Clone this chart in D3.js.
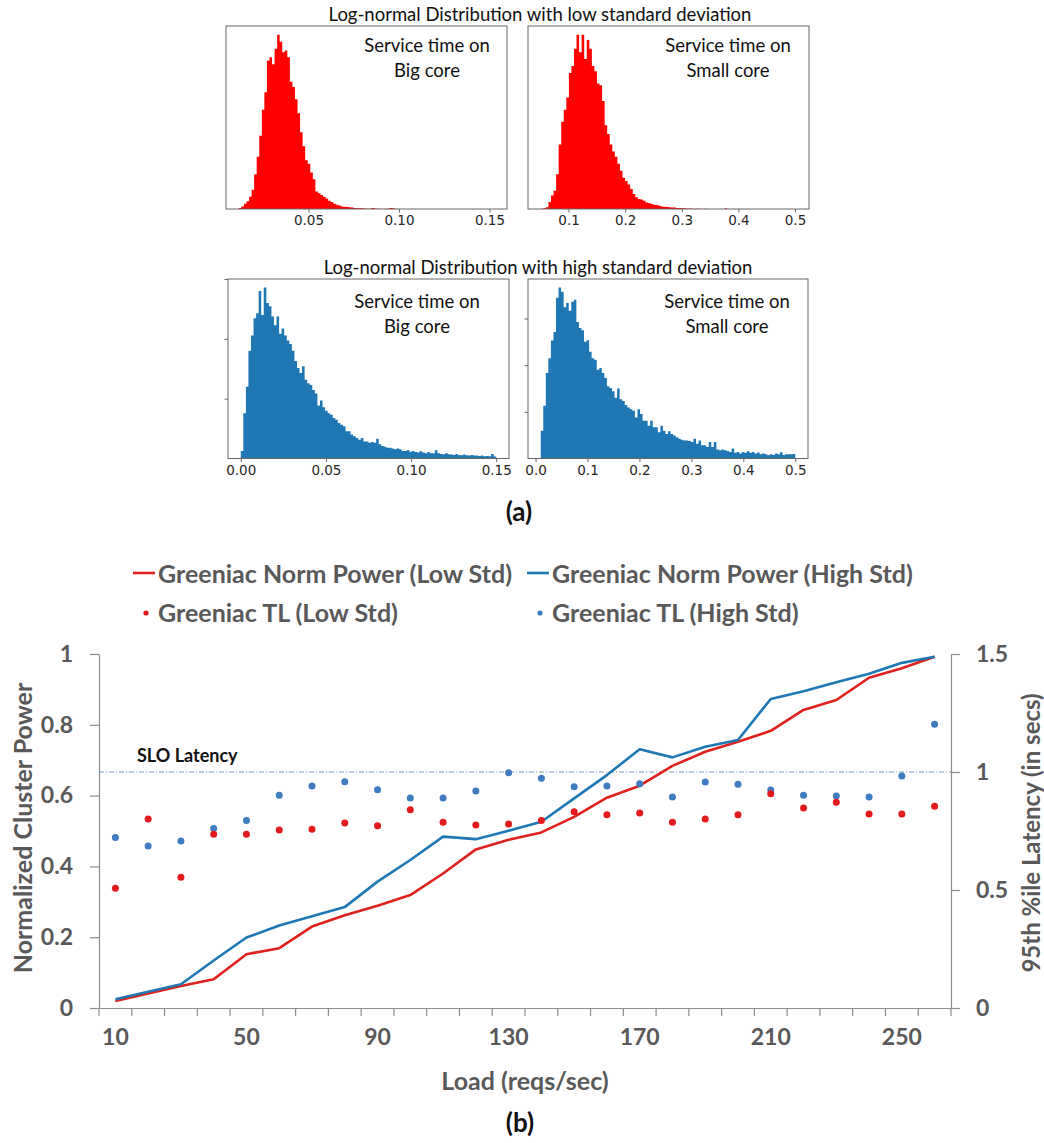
<!DOCTYPE html>
<html>
<head>
<meta charset="utf-8">
<script src="https://cdn.jsdelivr.net/npm/d3@7"></script>
<style>
body { margin: 0; background: #fff; }
svg { display: block; }
</style>
</head>
<body>
<svg id="fig" width="1044" height="1143"></svg>
<script>
// ---- (a) histogram bins, heights in % of the tallest bin ----
var bigLowStart = 0.0115, bigLowStep = 0.00141;
var bigLow = [0.6, 1.5, 3, 4.4, 7, 11, 20, 30, 42, 57, 67, 85, 87, 83, 92, 100, 96, 90, 91, 87,
    73, 70, 63, 55, 44, 36, 28, 26, 21, 17, 10, 9, 8, 7, 6, 4.8, 4, 3, 2.5, 2,
    1.5, 1.3, 1.1, 1, 0.8, 0.6, 0.5, 0.4, 0.4, 0.3, 0.2, 0.2, 0.6, 0.3, 0.1, 0.1, 0, 0.1, 0.2, 0.6,
    0.5, 0.1, 0, 0, 0, 0, 0, 0, 0, 0];

var smallLowStart = 0.051, smallLowStep = 0.00451;
var smallLow = [0.2, 0.4, 1, 4, 7.7, 10.5, 20, 37, 50, 57, 64, 78, 82, 92, 100, 90, 100, 86, 97, 92,
    82, 79, 72, 71, 62, 48, 43, 37, 33, 30, 26, 22, 18, 16, 14, 11.5, 8.6, 6.7, 5.7, 5.4,
    4.8, 3.8, 3.4, 2.9, 2.5, 2.3, 1.9, 1.5, 1.3, 1.1, 1, 0.8, 0.8, 0.6, 0.6, 0.5, 0.4, 0.3, 0.3, 0.2,
    0.2, 0.1, 0.1, 0, 0.1, 0, 0, 0, 0, 0, 0, 0, 0.5, 0, 0];

var bigHighStart = 0.0, bigHighStep = 0.0015;
var bigHigh = [4.4, 26.5, 42, 63, 72, 82, 85, 98, 84, 100, 91, 89, 83, 78, 83, 73, 76, 72, 69, 67,
    63, 57, 53, 50, 54, 46, 44, 43, 40, 38, 31, 34, 30, 28, 26.5, 25.6, 23.7, 22.7, 20.8, 19.8,
    18.8, 16, 16, 14, 13, 12, 11, 12, 10, 10, 9.2, 9.6, 9.2, 11.5, 8.3, 7.3, 6.9, 6.3, 6.3, 5.8,
    5.4, 5.8, 5.4, 4.4, 4.4, 5, 4, 4.4, 3.8, 3.5, 4.2, 3.5, 3.1, 3.8, 3.1, 3.1, 4.8, 3.1, 2.7, 2.5,
    3.1, 2.5, 2.3, 2.1, 2.7, 2.1, 1.9, 2.3, 1.9, 1.7, 2.1, 1.7, 1.7, 1.5, 1.7, 1.3, 1.5, 1.3, 2.7, 1.2];

var smallHighStart = 0.01, smallHighStep = 0.0049;
var smallHigh = [16.3, 30.8, 50, 58.7, 69, 74, 94, 100, 97.5, 88.5, 91, 86.5, 91.7, 92.9, 79.8, 76.3, 75, 68.3, 69.2, 62.5,
    58.7, 57.7, 51.9, 52.9, 50, 47.1, 42.3, 41.3, 39.4, 35.6, 41, 34.6, 33.7, 31.3, 29.8, 28.8, 27.9, 24, 28.8, 26,
    22.1, 22.1, 19.2, 22.1, 18.3, 18.3, 15.4, 19.2, 16.3, 14.4, 16, 14.4, 13.5, 12.5, 11.5, 11, 10.6, 10.6, 10.2, 9.6,
    11.5, 8.7, 10.6, 7.7, 7.7, 6.7, 9.6, 6.7, 9.6, 5.2, 4.8, 5.2, 4.8, 4.4, 3.8, 5.8, 3.3, 3.8, 2.9, 3.8,
    3.3, 4.2, 3.3, 3.8, 2.9, 3.5, 2.5, 2.9, 2.5, 1.9, 2.5, 2.1, 2.9, 2.5, 3.7, 2.1, 2.5, 2.5, 2.5, 2.7];

// ---- (b) load sweep ----
var loads = [10, 20, 30, 40, 50, 60, 70, 80, 90, 100, 110, 120, 130, 140, 150, 160, 170, 180, 190, 200, 210, 220, 230, 240, 250, 260];
var powerLow = [0.02, 0.041, 0.062, 0.081, 0.152, 0.169, 0.23, 0.262, 0.289, 0.319, 0.38, 0.448, 0.475, 0.496, 0.54, 0.594, 0.628, 0.684, 0.724, 0.752, 0.783, 0.842, 0.87, 0.933, 0.96, 0.992];
var powerHigh = [0.025, 0.046, 0.067, 0.134, 0.199, 0.233, 0.259, 0.285, 0.357, 0.418, 0.484, 0.477, 0.501, 0.526, 0.592, 0.658, 0.731, 0.708, 0.738, 0.757, 0.873, 0.895, 0.92, 0.944, 0.975, 0.992];
var latLow = [0.507, 0.801, 0.554, 0.736, 0.736, 0.754, 0.757, 0.784, 0.772, 0.84, 0.787, 0.775, 0.78, 0.794, 0.832, 0.819, 0.826, 0.787, 0.801, 0.819, 0.908, 0.847, 0.872, 0.822, 0.822, 0.855];
var latHigh = [0.722, 0.686, 0.708, 0.761, 0.794, 0.901, 0.941, 0.959, 0.925, 0.89, 0.89, 0.919, 0.997, 0.973, 0.938, 0.941, 0.95, 0.894, 0.958, 0.948, 0.924, 0.901, 0.898, 0.894, 0.983, 1.202];
var sloLatency = 1.0;

var RED = "#e0201c", BLUE = "#1f77b4", RED_DOT = "#e31a1c", BLUE_DOT = "#3f7bc1";
var GREY = "#595959", AXIS = "#8c8c8c";

var svg = d3.select("#fig");

// ================= (a) =================
var panels = [
    {bins: bigLow, start: bigLowStart, step: bigLowStep, color: "#ff0000",
     x0: 226, x1: 507, y0: 26, y1: 209, dom: [0.0044, 0.1597],
     ticks: [0.05, 0.10, 0.15], fmt: ".2f", yTicks: [], tx: 427, ty: 45, label: "Big core"},
    {bins: smallLow, start: smallLowStart, step: smallLowStep, color: "#ff0000",
     x0: 528, x1: 809, y0: 26, y1: 209, dom: [0.0284, 0.5247],
     ticks: [0.1, 0.2, 0.3, 0.4, 0.5], fmt: ".1f", yTicks: [], tx: 728, ty: 45, label: "Small core"},
    {bins: bigHigh, start: bigHighStart, step: bigHighStep, color: BLUE,
     x0: 228, x1: 509, y0: 279, y1: 458.5, dom: [-0.0075, 0.1575],
     ticks: [0, 0.05, 0.10, 0.15], fmt: ".2f", yTicks: [35, 70, 105], tx: 417, ty: 301, label: "Big core"},
    {bins: smallHigh, start: smallHighStart, step: smallHighStep, color: BLUE,
     x0: 528, x1: 808, y0: 279, y1: 458.5, dom: [-0.0145, 0.5245],
     ticks: [0, 0.1, 0.2, 0.3, 0.4, 0.5], fmt: ".1f", yTicks: [27.3, 54.6, 81.9], tx: 727, ty: 301, label: "Small core"}
];

panels.forEach(function (p) {
    var xs = d3.scaleLinear().domain(p.dom).range([p.x0, p.x1]);
    var ys = d3.scaleLinear().domain([0, 105]).range([p.y1, p.y0]);
    var g = svg.append("g");

    var pts = p.bins.map(function (v, i) { return {x: p.start + i * p.step, v: v}; });
    pts.push({x: p.start + p.bins.length * p.step, v: 0});
    var area = d3.area()
        .curve(d3.curveStepAfter)
        .x(function (d) { return xs(d.x); })
        .y0(ys(0))
        .y1(function (d) { return ys(d.v); });
    g.append("path").datum(pts).attr("d", area).attr("fill", p.color);

    g.append("rect")
        .attr("x", p.x0).attr("y", p.y0)
        .attr("width", p.x1 - p.x0).attr("height", p.y1 - p.y0)
        .attr("fill", "none").attr("stroke", "#666").attr("stroke-width", 1);

    var ax = g.append("g").attr("transform", "translate(0," + p.y1 + ")")
        .call(d3.axisBottom(xs).tickValues(p.ticks).tickFormat(d3.format(p.fmt)).tickSize(3.5).tickPadding(3));
    ax.select(".domain").remove();
    ax.selectAll("line").attr("stroke", "#666");
    ax.selectAll("text").attr("font-family", "DejaVu Sans").attr("font-size", 13.5).attr("fill", "#262626");

    if (p.yTicks.length) {
        var ay = g.append("g").attr("transform", "translate(" + p.x0 + ",0)")
            .call(d3.axisLeft(ys).tickValues(p.yTicks).tickFormat("").tickSize(3.5));
        ay.select(".domain").remove();
        ay.selectAll("line").attr("stroke", "#666");
    }

    g.append("text").attr("x", p.tx).attr("y", p.ty)
        .attr("text-anchor", "middle").attr("dominant-baseline", "central")
        .attr("font-family", "Lato").attr("font-size", 18.5).attr("fill", "#111")
        .text("Service time on");
    g.append("text").attr("x", p.tx).attr("y", p.ty + 25)
        .attr("text-anchor", "middle").attr("dominant-baseline", "central")
        .attr("font-family", "Lato").attr("font-size", 18.5).attr("fill", "#111")
        .text(p.label);
});

svg.append("text").attr("x", 540).attr("y", 14)
    .attr("text-anchor", "middle").attr("dominant-baseline", "central")
    .attr("font-family", "Lato").attr("font-size", 18.5).attr("fill", "#111")
    .text("Log-normal Distribution with low standard deviation");
svg.append("text").attr("x", 538).attr("y", 267)
    .attr("text-anchor", "middle").attr("dominant-baseline", "central")
    .attr("font-family", "Lato").attr("font-size", 18.5).attr("fill", "#111")
    .text("Log-normal Distribution with high standard deviation");

svg.append("text").attr("x", 519).attr("y", 511)
    .attr("text-anchor", "middle").attr("dominant-baseline", "central")
    .attr("font-family", "Lato").attr("font-weight", "bold").attr("font-size", 26).attr("fill", "#111")
    .text("(a)");

// ================= (b) =================
var x = d3.scaleBand().domain(loads).range([99, 951]).padding(0);
var yL = d3.scaleLinear().domain([0, 1]).range([1008, 654]);
var yR = d3.scaleLinear().domain([0, 1.5]).range([1008, 654]);
var cx = function (d) { return x(d) + x.bandwidth() / 2; };

var gb = svg.append("g");

function styleAxis(a) {
    a.select(".domain").attr("stroke", AXIS).attr("stroke-width", 1.2);
    a.selectAll(".tick line").attr("stroke", AXIS).attr("stroke-width", 1.2);
    a.selectAll("text").attr("font-family", "Lato").attr("font-weight", "bold")
        .attr("font-size", 23).attr("fill", GREY);
}

var axL = gb.append("g").attr("transform", "translate(99,0)")
    .call(d3.axisLeft(yL).tickValues([0, 0.2, 0.4, 0.6, 0.8, 1]).tickFormat(d3.format("~g")).tickSize(9).tickPadding(17).tickSizeOuter(0));
styleAxis(axL);

var axR = gb.append("g").attr("transform", "translate(951,0)")
    .call(d3.axisRight(yR).tickValues([0, 0.5, 1, 1.5]).tickFormat(d3.format("~g")).tickSize(9).tickPadding(16).tickSizeOuter(0));
styleAxis(axR);

// category axis: labels every 4th load, ticks on band edges
var labelLoads = loads.filter(function (d, i) { return i % 4 === 0; });
var axB = gb.append("g").attr("transform", "translate(0,1008)")
    .call(d3.axisBottom(x).tickValues(labelLoads).tickSize(0).tickPadding(21).tickSizeOuter(0));
styleAxis(axB);
var edges = loads.map(function (d) { return x(d); }).concat([x.range()[1]]);
gb.append("g").selectAll("line").data(edges).enter().append("line")
    .attr("x1", function (d) { return d; }).attr("x2", function (d) { return d; })
    .attr("y1", 1008).attr("y2", 1016)
    .attr("stroke", AXIS).attr("stroke-width", 1.2);

gb.append("text").attr("transform", "translate(22,828) rotate(-90)")
    .attr("text-anchor", "middle").attr("dominant-baseline", "central")
    .attr("font-family", "Lato").attr("font-weight", "bold").attr("font-size", 25).attr("fill", GREY)
    .text("Normalized Cluster Power");
gb.append("text").attr("transform", "translate(1030,833) rotate(-90)")
    .attr("text-anchor", "middle").attr("dominant-baseline", "central")
    .attr("font-family", "Lato").attr("font-weight", "bold").attr("font-size", 24).attr("fill", GREY)
    .text("95th %ile Latency (in secs)");
gb.append("text").attr("x", 525).attr("y", 1080)
    .attr("text-anchor", "middle").attr("dominant-baseline", "central")
    .attr("font-family", "Lato").attr("font-weight", "bold").attr("font-size", 25).attr("fill", GREY)
    .text("Load (reqs/sec)");

// SLO line
gb.append("line")
    .attr("x1", 99).attr("x2", 951)
    .attr("y1", yR(sloLatency)).attr("y2", yR(sloLatency))
    .attr("stroke", "#7f9cb8").attr("stroke-width", 1).attr("stroke-dasharray", "5,2,1,2");
gb.append("text").attr("x", 137).attr("y", 755)
    .attr("dominant-baseline", "central")
    .attr("font-family", "Lato").attr("font-weight", "bold").attr("font-size", 18).attr("fill", "#111")
    .text("SLO Latency");

// power lines
var line = d3.line().x(function (d) { return cx(d.load); }).y(function (d) { return yL(d.v); });
[[powerLow, RED], [powerHigh, BLUE]].forEach(function (s) {
    gb.append("path")
        .datum(loads.map(function (l, i) { return {load: l, v: s[0][i]}; }))
        .attr("d", line).attr("fill", "none")
        .attr("stroke", s[1]).attr("stroke-width", 2.6).attr("stroke-linejoin", "round");
});

// latency dots
[[latHigh, BLUE_DOT], [latLow, RED_DOT]].forEach(function (s) {
    gb.append("g").selectAll("circle")
        .data(loads.map(function (l, i) { return {load: l, v: s[0][i]}; }))
        .enter().append("circle")
        .attr("cx", function (d) { return cx(d.load); })
        .attr("cy", function (d) { return yR(d.v); })
        .attr("r", 3.5).attr("fill", s[1]);
});

// legend
var legend = [
    {text: "Greeniac Norm Power (Low Std)", color: RED, kind: "line", lx: 133, ly: 573},
    {text: "Greeniac Norm Power (High Std)", color: BLUE, kind: "line", lx: 527, ly: 573},
    {text: "Greeniac TL (Low Std)", color: RED_DOT, kind: "dot", lx: 133, ly: 612},
    {text: "Greeniac TL (High Std)", color: BLUE_DOT, kind: "dot", lx: 527, ly: 612}
];
var lg = svg.append("g").selectAll("g").data(legend).enter().append("g")
    .attr("transform", function (d) { return "translate(" + d.lx + "," + d.ly + ")"; });
lg.filter(function (d) { return d.kind === "line"; }).append("line")
    .attr("x1", 0).attr("x2", 22).attr("y1", 0).attr("y2", 0)
    .attr("stroke", function (d) { return d.color; }).attr("stroke-width", 2.6);
lg.filter(function (d) { return d.kind === "dot"; }).append("circle")
    .attr("cx", 13).attr("cy", 1).attr("r", 2.6)
    .attr("fill", function (d) { return d.color; });
lg.append("text").attr("x", 25).attr("y", 0)
    .attr("dominant-baseline", "central")
    .attr("font-family", "Lato").attr("font-weight", "bold").attr("font-size", 25).attr("fill", GREY)
    .text(function (d) { return d.text; });

svg.append("text").attr("x", 520).attr("y", 1122)
    .attr("text-anchor", "middle").attr("dominant-baseline", "central")
    .attr("font-family", "Lato").attr("font-weight", "bold").attr("font-size", 26).attr("fill", "#111")
    .text("(b)");
</script>
</body>
</html>
